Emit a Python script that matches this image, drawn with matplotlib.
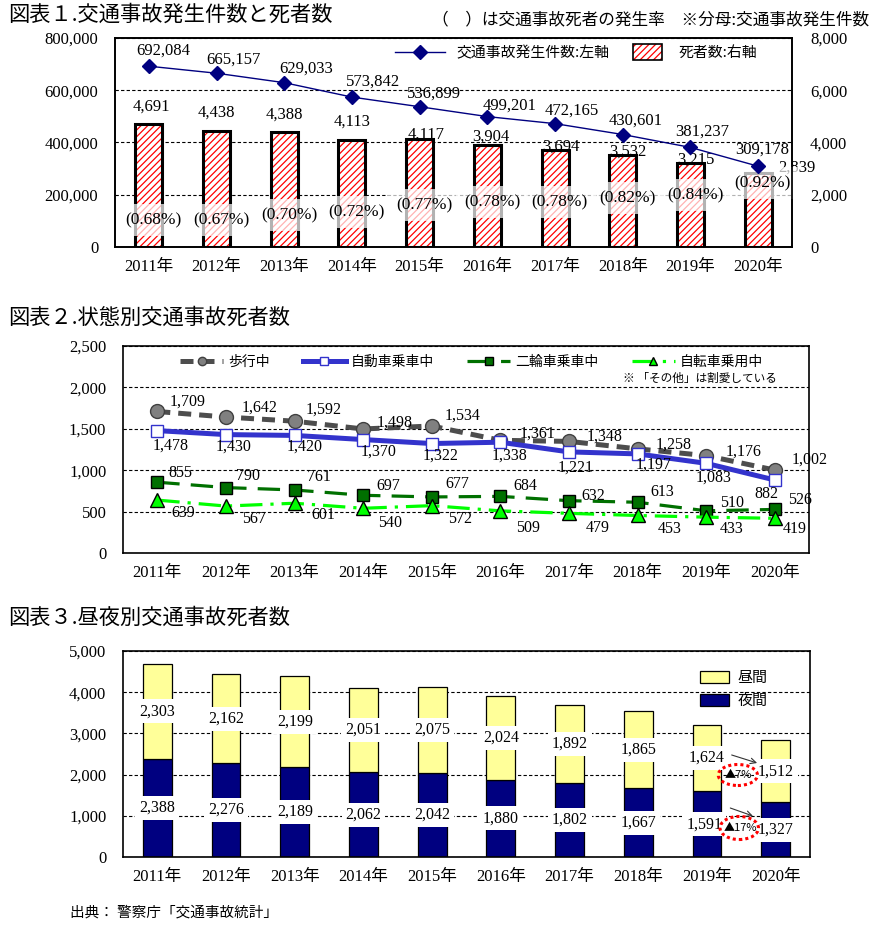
import matplotlib
matplotlib.use('Agg')
import matplotlib.pyplot as plt
from matplotlib.lines import Line2D
from matplotlib.patches import Patch, Ellipse
from matplotlib.legend_handler import HandlerTuple
from matplotlib.ticker import FuncFormatter, MultipleLocator
import matplotlib.transforms as mtrans
import numpy as np

plt.rcParams['font.family'] = ['Noto Sans CJK JP', 'DejaVu Sans']
plt.rcParams['hatch.linewidth'] = 0.9
NUMF = ['Liberation Serif', 'Noto Sans CJK JP']

# ---------------- data ----------------
years = ['2011年', '2012年', '2013年', '2014年', '2015年',
         '2016年', '2017年', '2018年', '2019年', '2020年']
accidents = [692084, 665157, 629033, 573842, 536899, 499201, 472165, 430601, 381237, 309178]
deaths = [4691, 4438, 4388, 4113, 4117, 3904, 3694, 3532, 3215, 2839]
death_rate = [0.68, 0.67, 0.70, 0.72, 0.77, 0.78, 0.78, 0.82, 0.84, 0.92]

walking = [1709, 1642, 1592, 1498, 1534, 1361, 1348, 1258, 1176, 1002]
car = [1478, 1430, 1420, 1370, 1322, 1338, 1221, 1197, 1083, 882]
motorcycle = [855, 790, 761, 697, 677, 684, 632, 613, 510, 526]
bicycle = [639, 567, 601, 540, 572, 509, 479, 453, 433, 419]

daytime = [2303, 2162, 2199, 2051, 2075, 2024, 1892, 1865, 1624, 1512]
nighttime = [2388, 2276, 2189, 2062, 2042, 1880, 1802, 1667, 1591, 1327]
change_labels = ['▲7%', '▲17%']

# ---------------- layout helpers ----------------
W, H = 896, 926
fig = plt.figure(figsize=(W / 100, H / 100), dpi=100)
PT = 0.72  # px -> pt


def px_axes(l, t, r, b):
    return fig.add_axes([l / W, 1 - b / H, (r - l) / W, (b - t) / H])


def ftext(x, y, s, **kw):
    return fig.text(x / W, 1 - y / H, s, **kw)


fmt = FuncFormatter(lambda v, p: f'{int(v):,}')
x = np.arange(len(years))
GRID = dict(color='black', ls=(0, (3, 2)), lw=0.8)


def style_axes(ax, ypad):
    for s in ax.spines.values():
        s.set_linewidth(1.2)
    ax.tick_params(length=0, labelsize=12)
    ax.tick_params(axis='y', pad=ypad)
    ax.tick_params(axis='x', pad=9)
    for lab in ax.get_xticklabels() + ax.get_yticklabels():
        lab.set_family(NUMF)


# ================= Chart 1 =================
ftext(8, 15, '図表１.交通事故発生件数と死者数', fontsize=15.3, va='center')
ftext(432, 20, '（　）は交通事故死者の発生率　※分母:交通事故発生件数', fontsize=12, va='center')

ax1 = px_axes(115, 38, 792, 247)
ax2 = ax1.twinx()
ax1.set_zorder(ax2.get_zorder() + 1)
ax1.patch.set_visible(False)
ax1.set_xlim(-0.5, len(years) - 0.5)
ax1.set_ylim(0, 800000)
ax2.set_ylim(0, 8000)
ax1.yaxis.set_major_locator(MultipleLocator(200000))
ax2.yaxis.set_major_locator(MultipleLocator(2000))
ax1.yaxis.set_major_formatter(fmt)
ax2.yaxis.set_major_formatter(fmt)
ax1.set_xticks(x)
ax1.set_xticklabels(years)
ax2.grid(axis='y', **GRID)
ax2.set_axisbelow(True)

ax2.bar(x, deaths, 0.4, color='white', edgecolor='red', hatch='/////', lw=0, zorder=2)
ax2.bar(x, deaths, 0.4, fill=False, edgecolor='black', lw=2.2, zorder=3)
ax1.plot(x, accidents, color='#000080', lw=1, marker='D', ms=7, zorder=5)

style_axes(ax1, 12)
style_axes(ax2, 13)

acc_off = [(14, -16), (17, -14), (22, -14), (21, -15), (14, -13),
           (22, -11), (17, -13), (13, -14), (12, -16), (4, -17)]
for xi, v, (dx, dy) in zip(x, accidents, acc_off):
    ax1.annotate(f'{v:,}', (xi, v), xytext=(dx * PT, -dy * PT), textcoords='offset points',
                 ha='center', va='center', fontsize=12, family=NUMF, zorder=6)

death_off = [(3, -17.5), (0, -18), (0, -18), (0, -18), (6, -5),
             (3, -8), (6, -4), (5, -3), (5, -3), (39, -5)]
for xi, v, (dx, dy) in zip(x, deaths, death_off):
    ax2.annotate(f'{v:,}', (xi, v), xytext=(dx * PT, -dy * PT), textcoords='offset points',
                 ha='center', va='center', fontsize=12, family=NUMF, zorder=6)

rate_y_px = [220, 220, 215, 212, 205, 202, 202, 198, 195, 183]
btr = mtrans.blended_transform_factory(ax2.transData, fig.transFigure)
for xi, r, yp in zip(x, death_rate, rate_y_px):
    ax2.text(xi + 0.07, 1 - yp / H, f'({r:.2f}%)', transform=btr, ha='center', va='center',
             fontsize=12.5, family=NUMF, zorder=6,
             bbox=dict(boxstyle='square,pad=0.45', facecolor='white', alpha=0.7, edgecolor='none'))

legA = ax1.legend([Line2D([], [], color='#000080', lw=1, marker='D', ms=7)],
                  ['交通事故発生件数:左軸'], loc='center left',
                  bbox_to_anchor=(395 / W, 1 - 53 / H), bbox_transform=fig.transFigure,
                  frameon=False, fontsize=10.7, handlelength=3.36, handletextpad=0.8,
                  borderpad=0, borderaxespad=0)
ax1.add_artist(legA)
hatch_handle = (Patch(facecolor='white', edgecolor='red', hatch='/////', lw=0),
                Patch(fill=False, edgecolor='black', lw=1.2))
ax1.legend([hatch_handle], ['死者数:右軸'], loc='center left',
           bbox_to_anchor=(633 / W, 1 - 52 / H), bbox_transform=fig.transFigure,
           frameon=False, fontsize=10.7, handlelength=1.95, handleheight=1.34,
           handletextpad=1.1, borderpad=0, borderaxespad=0,
           handler_map={tuple: HandlerTuple(ndivide=1)})

# ================= Chart 2 =================
ftext(8, 318, '図表２.状態別交通事故死者数', fontsize=15.3, va='center')
bx = px_axes(123, 346, 809, 553)
bx.set_xlim(-0.5, len(years) - 0.5)
bx.set_ylim(0, 2500)
bx.yaxis.set_major_locator(MultipleLocator(500))
bx.yaxis.set_major_formatter(fmt)
bx.set_xticks(x)
bx.set_xticklabels(years)
bx.grid(axis='y', **GRID)
bx.set_axisbelow(True)

l_walk = bx.plot(x, walking, color='#4d4d4d', lw=3.6, dashes=(2.6, 1.6), marker='o', ms=10,
                 mfc='#808080', mec='#404040', mew=1, zorder=3)[0]
l_car = bx.plot(x, car, color='#3333cc', lw=3.6, marker='s', ms=9,
                mfc='white', mec='#3333cc', mew=1, zorder=4)[0]
l_moto = bx.plot(x, motorcycle, color='#007000', lw=2.3, dashes=(7, 3.5), marker='s', ms=9,
                 mfc='#007000', mec='black', mew=1, zorder=5)[0]
l_bike = bx.plot(x, bicycle, color='#00ff00', lw=2.3, dashes=(7, 2.5, 1, 2.5), marker='^', ms=10,
                 mfc='#00ff00', mec='black', mew=1, zorder=6)[0]
style_axes(bx, 12)

walk_off = [(30, -10), (34, -9), (29, -12), (32, -6), (31, -10), (37, -7), (36, -5), (36, -4), (37, -4), (35, -10)]
car_off = [(13, 15), (8, 12), (10, 11), (15, 12), (9, 12), (9, 13), (7, 16), (16, 11), (7, 14), (-8, 14)]
moto_off = [(23, -9), (22, -12), (24, -13), (25, -9), (26, -13), (25, -10), (24, -5), (25, -10), (26, -8), (25, -9)]
bike_off = [(26, 13), (28, 13), (29, 12), (27, 15), (28, 13), (28, 17), (29, 15), (32, 14), (26, 12), (20, 11)]
for series, offs in [(walking, walk_off), (car, car_off), (motorcycle, moto_off), (bicycle, bike_off)]:
    for xi, v, (dx, dy) in zip(x, series, offs):
        bx.annotate(f'{v:,}', (xi, v), xytext=(dx * PT, -dy * PT), textcoords='offset points',
                    ha='center', va='center', fontsize=11.5, family=NUMF, zorder=8)

bx.legend([l_walk, l_car, l_moto, l_bike], ['歩行中', '自動車乗車中', '二輪車乗車中', '自転車乗用中'],
          ncol=4, loc='center left', bbox_to_anchor=(180 / W, 1 - 362 / H),
          bbox_transform=fig.transFigure, frameon=False, fontsize=10,
          handlelength=3.1, handletextpad=0.35, columnspacing=2.4, markerscale=0.6,
          borderpad=0, borderaxespad=0)
ftext(623, 378, '※ 「その他」は割愛している', fontsize=8.4, va='center')

# ================= Chart 3 =================
ftext(8, 618, '図表３.昼夜別交通事故死者数', fontsize=15.3, va='center')
cx = px_axes(123, 651, 810, 857)
cx.set_xlim(-0.5, len(years) - 0.5)
cx.set_ylim(0, 5000)
cx.yaxis.set_major_locator(MultipleLocator(1000))
cx.yaxis.set_major_formatter(fmt)
cx.set_xticks(x)
cx.set_xticklabels(years)
cx.grid(axis='y', **GRID)
cx.set_axisbelow(True)

b_night = cx.bar(x, nighttime, 0.42, color='#000080', edgecolor='black', lw=0.9, zorder=2)
b_day = cx.bar(x, daytime, 0.42, bottom=nighttime, color='#ffff99', edgecolor='black', lw=0.9, zorder=2)
style_axes(cx, 12)

LBOX = dict(boxstyle='square,pad=0.25', facecolor='white', edgecolor='none')
for xi, n, d in zip(x, nighttime, daytime):
    nx = xi - 0.04 if xi == 8 else xi
    cx.text(nx, n / 2, f'{n:,}', ha='center', va='center', fontsize=11.5, family=NUMF,
            bbox=LBOX, zorder=5)
    cx.text(xi, n + d / 2, f'{d:,}', ha='center', va='center', fontsize=11.5, family=NUMF,
            bbox=LBOX, zorder=5)

cx.legend([b_day, b_night], ['昼間', '夜間'], loc='upper left',
          bbox_to_anchor=(700 / W, 1 - 671 / H), bbox_transform=fig.transFigure,
          frameon=False, fontsize=10.8, handlelength=1.9, handleheight=0.9,
          handletextpad=0.6, labelspacing=0.55, borderpad=0, borderaxespad=0)

# change annotations 2019 -> 2020
arr = dict(arrowstyle='->', color='#333333', lw=0.8, shrinkA=0, shrinkB=0)
cx.annotate('', xy=(8.73, 2282), xytext=(8.36, 2476), arrowprops=arr, zorder=6)
cx.annotate('', xy=(8.67, 995), xytext=(8.34, 1189), arrowprops=arr, zorder=6)
cx.add_patch(Ellipse((8.45, 1990), 0.57, 510, fill=False, edgecolor='red', lw=2.2,
                     ls=(0, (1, 1)), zorder=7))
cx.add_patch(Ellipse((8.47, 704), 0.56, 560, fill=False, edgecolor='red', lw=2.2,
                     ls=(0, (1, 1)), zorder=7))
cx.text(8.46, 1990, change_labels[0], ha='center', va='center', fontsize=8, zorder=8)
cx.text(8.49, 704, change_labels[1], ha='center', va='center', fontsize=8, zorder=8)

ftext(70, 913, '出典： 警察庁「交通事故統計」', fontsize=10.5, va='center')

fig.savefig('out.png', dpi=100)
